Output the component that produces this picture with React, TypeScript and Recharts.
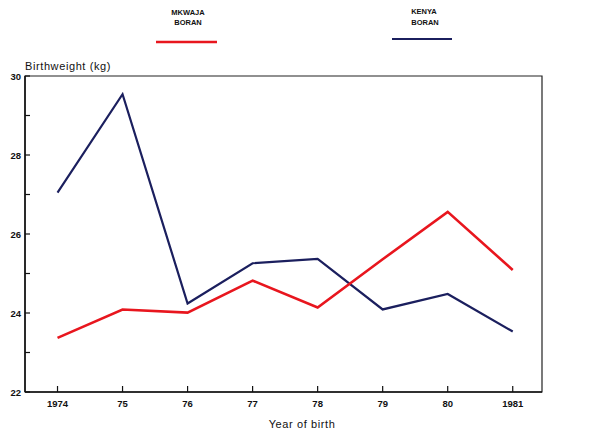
import React from 'react';
import { LineChart, Line, XAxis, YAxis, ReferenceArea } from 'recharts';

const years = [1974, 1975, 1976, 1977, 1978, 1979, 1980, 1981];
const yearLabels = ['1974', '75', '76', '77', '78', '79', '80', '1981'];
const mkwajaBoran = [23.37, 24.09, 24.01, 24.82, 24.14, 25.36, 26.56, 25.09];
const kenyaBoran = [27.05, 29.54, 24.24, 25.26, 25.37, 24.09, 24.48, 23.53];
const yTicks = [22, 23, 24, 25, 26, 27, 28, 29, 30];
const yLabels = [22, 24, 26, 28, 30];
const seriesNames = [['MKWAJA', 'BORAN'], ['KENYA', 'BORAN']];

const RED = '#e8161e';
const BLUE = '#1b1f5e';
const FONT = '"Liberation Sans", Arial, sans-serif';

const data = years.map((y, i) => ({ year: y, mkwaja: mkwajaBoran[i], kenya: kenyaBoran[i] }));

const XTick = (props: any) => {
  const { x, y, payload } = props;
  const idx = years.indexOf(payload.value);
  return (
    <g>
      <line x1={x} x2={x} y1={y} y2={y - 6} stroke="#111" strokeWidth={1.2} />
      <text x={x} y={y + 15} textAnchor="middle" fontFamily={FONT} fontWeight="bold" fontSize={9.5} fill="#111">
        {idx >= 0 ? yearLabels[idx] : ''}
      </text>
    </g>
  );
};

const YTick = (props: any) => {
  const { x, y, payload } = props;
  const show = yLabels.includes(payload.value);
  return (
    <g>
      <line x1={x} x2={x + 5} y1={y} y2={y} stroke="#111" strokeWidth={1.2} />
      {show && (
        <text x={x - 4} y={y + 3.5} textAnchor="end" fontFamily={FONT} fontWeight="bold" fontSize={9.5} fill="#111">
          {payload.value}
        </text>
      )}
    </g>
  );
};

const LegendSvg = () => (
  <svg width={600} height={50} style={{ position: 'absolute', left: 0, top: 0, display: 'block' }}>
    <g fontFamily={FONT} fontWeight="bold" fontSize={7.5} fill="#111" textAnchor="middle">
      <text x={188} y={15}>{seriesNames[0][0]}</text>
      <text x={188} y={25}>{seriesNames[0][1]}</text>
      <text x={424} y={14}>{seriesNames[1][0]}</text>
      <text x={425} y={25}>{seriesNames[1][1]}</text>
    </g>
    <line x1={156} x2={217} y1={42} y2={42} stroke={RED} strokeWidth={2.5} />
    <line x1={392} x2={452} y1={39} y2={39} stroke={BLUE} strokeWidth={2} />
  </svg>
);

export default function App() {
  return (
    <div style={{ position: 'absolute', left: 0, top: 0, width: 600, height: 437, background: '#fff' }}>
      <LineChart width={600} height={437} data={data} margin={{ top: 76, right: 58, bottom: 0, left: 0 }}>
        <XAxis
          dataKey="year"
          type="number"
          domain={[1973.5, 1981.45]}
          ticks={years}
          allowDataOverflow
          height={45}
          tickSize={0}
          tickMargin={0}
          tickLine={false}
          axisLine={{ stroke: '#111', strokeWidth: 1.5 }}
          tick={<XTick />}
          interval={0}
          label={(p: any) => {
            const vb = p.viewBox;
            return (
              <text x={302} y={vb.y + 36} textAnchor="middle" fontFamily={FONT} fontSize={11} fill="#111" letterSpacing={0.6}>
                Year of birth
              </text>
            );
          }}
        />
        <YAxis
          type="number"
          domain={[22, 30]}
          ticks={yTicks}
          width={25}
          tickSize={0}
          tickMargin={0}
          tickLine={false}
          axisLine={{ stroke: '#111', strokeWidth: 1.5 }}
          tick={<YTick />}
          interval={0}
          label={(p: any) => {
            const vb = p.viewBox;
            return (
              <text x={25} y={vb.y - 6} textAnchor="start" fontFamily={FONT} fontSize={11} fill="#111" letterSpacing={0.6}>
                Birthweight (kg)
              </text>
            );
          }}
        />
        <ReferenceArea x1={1973.5} x2={1981.45} y1={22} y2={30} fill="none" stroke="#222" strokeWidth={1.2} ifOverflow="visible" />
        <Line dataKey="kenya" stroke={BLUE} strokeWidth={2.2} dot={false} isAnimationActive={false} />
        <Line dataKey="mkwaja" stroke={RED} strokeWidth={2.6} dot={false} isAnimationActive={false} />
      </LineChart>
      <LegendSvg />
    </div>
  );
}
